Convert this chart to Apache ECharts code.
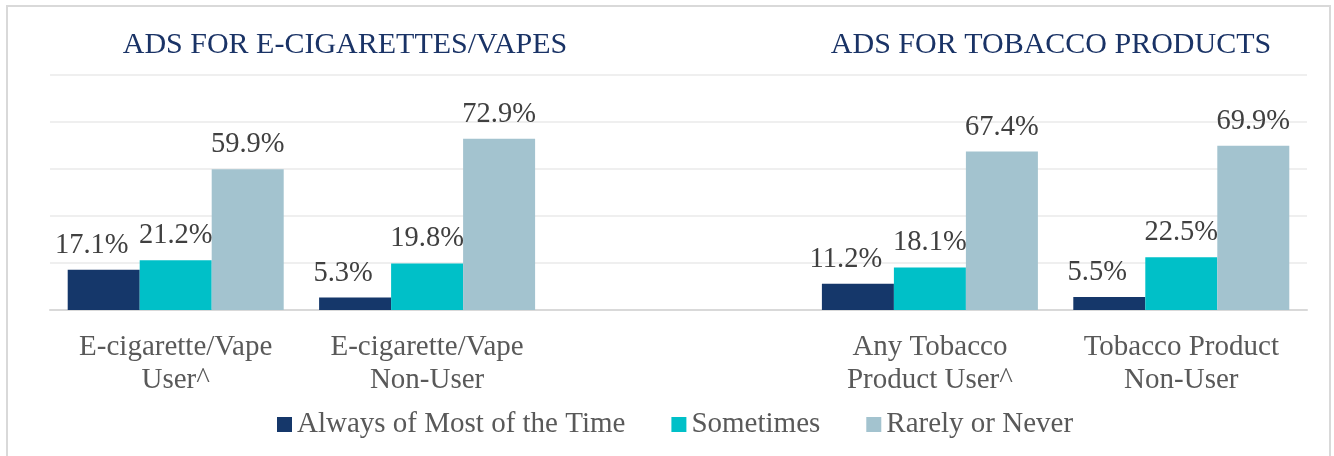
<!DOCTYPE html>
<html>
<head>
<meta charset="utf-8">
<script src="https://cdn.jsdelivr.net/npm/echarts@6/dist/echarts.min.js"></script>
<style>
html,body{margin:0;padding:0;background:#fff;}
#chart{width:1334px;height:456px;}
</style>
</head>
<body>
<div id="chart"></div>
<script>
const categories = [
  "E-cigarette/Vape\nUser^",
  "E-cigarette/Vape\nNon-User",
  "",
  "Any Tobacco\nProduct User^",
  "Tobacco Product\nNon-User"
];
const seriesNames = ["Always of Most of the Time", "Sometimes", "Rarely or Never"];
const alwaysValues = [17.1, 5.3, null, 11.2, 5.5];
const sometimesValues = [21.2, 19.8, null, 18.1, 22.5];
const rarelyValues = [59.9, 72.9, null, 67.4, 69.9];
const panelTitles = ["ADS FOR E-CIGARETTES/VAPES", "ADS FOR TOBACCO PRODUCTS"];

const colors = ["#15376A", "#00C0C8", "#A3C3CF"];
const FONT = "'Liberation Serif', 'Times New Roman', serif";

const chart = echarts.init(document.getElementById('chart'), null, {renderer: 'canvas'});

function mkSeries(name, data, color, dx) {
  return {
    name: name,
    type: 'bar',
    data: data.map(v => v === null ? '-' : v),
    barWidth: 72,
    barGap: '0%',
    itemStyle: {color: color},
    label: {
      show: true,
      position: 'top',
      distance: 10,
      offset: [dx, 0],
      color: '#404040',
      fontFamily: FONT,
      fontSize: 28.5,
      formatter: p => Number(p.value).toFixed(1) + '%'
    }
  };
}

chart.setOption({
  animation: false,
  backgroundColor: '#ffffff',
  graphic: [{
    type: 'rect',
    shape: {x: 7, y: 6, width: 1323, height: 520},
    style: {fill: 'none', stroke: '#d9d9d9', lineWidth: 2},
    silent: true
  }],
  title: [
    {text: panelTitles[0], left: 345, top: 30, textAlign: 'center', padding: 0,
     textStyle: {fontFamily: FONT, fontSize: 30, fontWeight: 'normal', color: '#1A3366'}},
    {text: panelTitles[1], left: 1051, top: 30, textAlign: 'center', padding: 0,
     textStyle: {fontFamily: FONT, fontSize: 30, fontWeight: 'normal', color: '#1A3366'}}
  ],
  legend: {
    data: seriesNames,
    left: 277,
    top: 410,
    padding: 0,
    itemWidth: 15,
    itemHeight: 15,
    itemGap: 46,
    icon: 'rect',
    textStyle: {fontFamily: FONT, fontSize: 29, color: '#595959'}
  },
  grid: {left: 50, right: 27, top: 75, bottom: 146, containLabel: false},
  xAxis: {
    type: 'category',
    data: categories,
    axisLine: {show: true, lineStyle: {color: '#d9d9d9', width: 2}},
    axisTick: {show: false},
    axisLabel: {
      interval: 0,
      margin: 21,
      fontFamily: FONT,
      fontSize: 29,
      lineHeight: 33,
      color: '#595959',
      align: 'center'
    }
  },
  yAxis: {
    type: 'value',
    min: 0,
    max: 100,
    interval: 20,
    axisLine: {show: false},
    axisTick: {show: false},
    axisLabel: {show: false},
    splitLine: {show: true, lineStyle: {color: '#efefef', width: 2}}
  },
  series: [
    mkSeries(seriesNames[0], alwaysValues, colors[0], -12),
    mkSeries(seriesNames[1], sometimesValues, colors[1], 0),
    mkSeries(seriesNames[2], rarelyValues, colors[2], 0)
  ]
});
</script>
</body>
</html>
